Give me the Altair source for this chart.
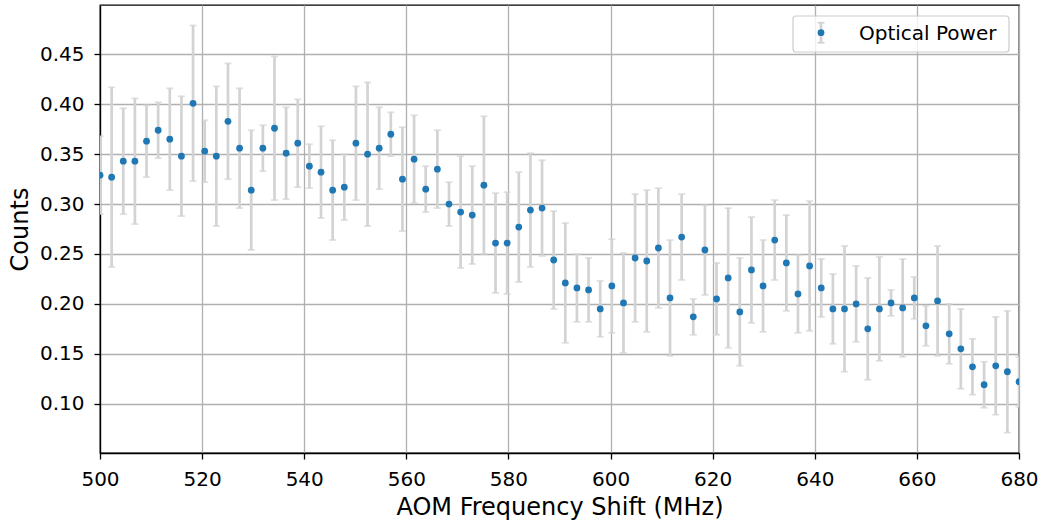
import altair as alt
import pandas as pd
import numpy as np

n_points = 80
freq_start = 500
freq_stop = 680

counts = [
    0.329, 0.327, 0.343, 0.343, 0.363, 0.374, 0.365, 0.348, 0.401, 0.353,
    0.348, 0.383, 0.356, 0.314, 0.356, 0.376, 0.351, 0.361, 0.338, 0.332,
    0.314, 0.317, 0.361, 0.350, 0.356, 0.370, 0.325, 0.345, 0.315, 0.335,
    0.300, 0.292, 0.289, 0.319, 0.261, 0.261, 0.277, 0.294, 0.296, 0.244,
    0.221, 0.216, 0.214, 0.195, 0.218, 0.201, 0.246, 0.243, 0.256, 0.206,
    0.267, 0.187, 0.254, 0.205, 0.226, 0.192, 0.234, 0.218, 0.264, 0.241,
    0.210, 0.238, 0.216, 0.195, 0.195, 0.200, 0.175, 0.195, 0.201, 0.196,
    0.206, 0.178, 0.203, 0.170, 0.155, 0.137, 0.119, 0.138, 0.132, 0.122,
]
errors = [
    0.039, 0.090, 0.053, 0.063, 0.036, 0.028, 0.051, 0.060, 0.078, 0.031,
    0.070, 0.058, 0.060, 0.060, 0.023, 0.072, 0.046, 0.044, 0.022, 0.046,
    0.050, 0.033, 0.057, 0.072, 0.041, 0.022, 0.052, 0.044, 0.023, 0.039,
    0.022, 0.056, 0.049, 0.069, 0.050, 0.051, 0.055, 0.057, 0.048, 0.049,
    0.060, 0.034, 0.032, 0.028, 0.047, 0.050, 0.064, 0.071, 0.060, 0.058,
    0.043, 0.018, 0.045, 0.036, 0.070, 0.054, 0.053, 0.046, 0.040, 0.048,
    0.039, 0.065, 0.029, 0.035, 0.063, 0.038, 0.051, 0.052, 0.013, 0.049,
    0.021, 0.020, 0.055, 0.030, 0.040, 0.028, 0.023, 0.049, 0.061, 0.025,
]
x_ticks = [500, 520, 540, 560, 580, 600, 620, 640, 660, 680]
y_ticks = [0.10, 0.15, 0.20, 0.25, 0.30, 0.35, 0.40, 0.45]
legend_label = "Optical Power"

freqs = np.linspace(freq_start, freq_stop, n_points)
df = pd.DataFrame({"freq": freqs, "counts": counts, "err": errors})
df["lo"] = df["counts"] - df["err"]
df["hi"] = df["counts"] + df["err"]

FONT = "DejaVu Sans"
xscale = alt.Scale(domain=[freq_start, freq_stop], nice=False, zero=False)
yscale = alt.Scale(domain=[0.0506, 0.4995], nice=False, zero=False)

xaxis = alt.Axis(values=x_ticks, format="d", title="AOM Frequency Shift (MHz)")
yaxis = alt.Axis(values=y_ticks, format=".2f", title="Counts")

base = alt.Chart(df)
bars = base.mark_rule(color="#d3d3d3", strokeWidth=2.7, clip=True).encode(
    x=alt.X("freq:Q", scale=xscale, axis=xaxis),
    y=alt.Y("lo:Q", scale=yscale, axis=yaxis),
    y2="hi:Q",
)
cap_lo = base.mark_tick(color="#d3d3d3", orient="horizontal", size=7, thickness=1.8, clip=True).encode(
    x=alt.X("freq:Q", scale=xscale), y=alt.Y("lo:Q", scale=yscale)
)
cap_hi = base.mark_tick(color="#d3d3d3", orient="horizontal", size=7, thickness=1.8, clip=True).encode(
    x=alt.X("freq:Q", scale=xscale), y=alt.Y("hi:Q", scale=yscale)
)
pts = base.mark_circle(color="#1f77b4", size=46, opacity=1, clip=True).encode(
    x=alt.X("freq:Q", scale=xscale), y=alt.Y("counts:Q", scale=yscale)
)

leg = alt.Chart(pd.DataFrame({"label": [legend_label]}))
leg_box = leg.mark_rect(fill="white", fillOpacity=0.8, stroke="#cccccc", strokeWidth=1.2, cornerRadius=3).encode(
    x=alt.value(693), x2=alt.value(909), y=alt.value(11), y2=alt.value(47)
)
leg_bar = leg.mark_rule(color="#d3d3d3", strokeWidth=2.7).encode(
    x=alt.value(721), y=alt.value(17.7), y2=alt.value(37.7)
)
leg_cap1 = leg.mark_rule(color="#d3d3d3", strokeWidth=1.8).encode(
    x=alt.value(717.5), x2=alt.value(724.5), y=alt.value(17.7)
)
leg_cap2 = leg.mark_rule(color="#d3d3d3", strokeWidth=1.8).encode(
    x=alt.value(717.5), x2=alt.value(724.5), y=alt.value(37.7)
)
leg_dot = leg.mark_circle(color="#1f77b4", size=46, opacity=1).encode(
    x=alt.value(721), y=alt.value(27.7)
)
leg_text = leg.mark_text(align="left", baseline="middle", fontSize=20, font=FONT, color="black").encode(
    x=alt.value(759), y=alt.value(28.5), text="label:N"
)

chart = alt.layer(
    bars, cap_lo, cap_hi, pts, leg_box, leg_bar, leg_cap1, leg_cap2, leg_dot, leg_text
).properties(
    width=919, height=448,
    autosize=alt.AutoSizeParams(type="none"),
    padding={"left": 100, "top": 5, "right": 23, "bottom": 72},
).configure_view(
    stroke="black", strokeWidth=1.3
).configure_axis(
    labelFont=FONT, titleFont=FONT, labelFontSize=20, titleFontSize=24,
    labelColor="black", titleColor="black", titleFontWeight="normal",
    domainColor="black", domainWidth=1.3, tickColor="black", tickWidth=1.3, tickSize=6,
    gridColor="#b0b0b0", gridWidth=1.3, labelFlush=False, labelOverlap=False,
).configure_axisX(labelPadding=10, titlePadding=6).configure_axisY(labelPadding=10, titlePadding=7)

chart.save("out.html", embed_options={"renderer": "svg", "actions": False})
